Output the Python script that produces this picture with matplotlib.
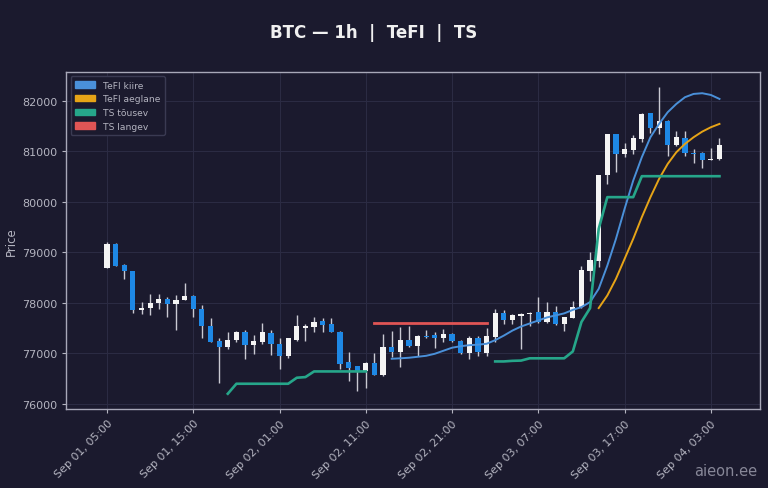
import numpy as np
import pandas as pd
import matplotlib
matplotlib.use("Agg")
import matplotlib.pyplot as plt
import matplotlib.dates as mdates
from matplotlib.patches import Patch

# andmed (1h küünlad)
times = pd.date_range("2025-09-01 05:00", periods=72, freq="h")

opens = [78690, 79170, 78740, 78620, 77850, 77895, 78000, 78080, 77980, 78060,
         78140, 77880, 77550, 77250, 77120, 77270, 77430, 77170, 77220, 77405,
         77180, 76955, 77270, 77510, 77520, 77630, 77580, 77430, 76820, 76740,
         76640, 76810, 76560, 77120, 77025, 77265, 77140, 77350, 77370, 77300,
         77385, 77250, 77000, 77305, 77010, 77320, 77795, 77660, 77740, 77770,
         77815, 77620, 77815, 77570, 77700, 77910, 78620, 78820, 80535, 81345,
         80950, 81030, 81245, 81760, 81460, 81610, 81130, 81260, 80970, 80970,
         80835, 80840]
highs = [79200, 79180, 78760, 78630, 78025, 78180, 78180, 78120, 78145, 78400,
         78150, 77950, 77700, 77300, 77430, 77450, 77470, 77365, 77600, 77470,
         77300, 77310, 77750, 77570, 77720, 77700, 77700, 77440, 77020, 76750,
         76820, 77000, 77385, 77450, 77520, 77550, 77360, 77470, 77430, 77485,
         77400, 77270, 77340, 77340, 77500, 77870, 77860, 77770, 77790, 77810,
         78110, 78010, 77945, 77725, 78045, 78725, 79005, 80540, 81350, 81350,
         81170, 81325, 81760, 81770, 82270, 81620, 81410, 81410, 81040, 80990,
         81060, 81260]
lows = [78680, 78720, 78475, 77800, 77780, 77760, 77880, 77720, 77470, 78050,
        77720, 77300, 77220, 76415, 77090, 77230, 76880, 76990, 77190, 76970,
        76690, 76905, 77250, 77250, 77420, 77430, 77420, 76690, 76460, 76245,
        76310, 76570, 76555, 76930, 76725, 77130, 76945, 77300, 77100, 77220,
        77230, 76990, 76880, 76950, 76945, 77220, 77585, 77585, 77090, 77550,
        77600, 77600, 77560, 77450, 77690, 77900, 78440, 78710, 80355, 80590,
        80880, 80950, 81195, 81365, 81345, 80905, 81100, 80900, 80770, 80665,
        80830, 80830]
closes = [79170, 78730, 78620, 77850, 77895, 78000, 78080, 77980, 78060, 78140,
          77880, 77550, 77230, 77130, 77270, 77430, 77155, 77240, 77420, 77190,
          76955, 77300, 77540, 77545, 77620, 77565, 77430, 76790, 76705, 76640,
          76805, 76575, 77120, 77025, 77265, 77140, 77350, 77320, 77300, 77385,
          77235, 77000, 77305, 77025, 77340, 77795, 77650, 77750, 77780, 77790,
          77620, 77815, 77570, 77715, 77925, 78640, 78840, 80535, 81345, 80950,
          81050, 81260, 81740, 81460, 81610, 81130, 81280, 80970, 80955, 80820,
          80850, 81130]

nan = np.nan
tefi_kiire = [nan] * 33 + [
    76891, 76900, 76911, 76930, 76950, 76990, 77050, 77110, 77140, 77160,
    77170, 77188, 77260, 77350, 77450, 77530, 77590, 77650, 77710, 77750,
    77790, 77860, 77915, 78014, 78277, 78738, 79267, 79861, 80421, 80885,
    81281, 81544, 81776, 81940, 82073, 82138, 82152, 82118, 82039]
tefi_aeglane = [nan] * 57 + [
    77895, 78145, 78475, 78870, 79267, 79697, 80093, 80455, 80752, 80983,
    81148, 81280, 81391, 81478, 81544]
ts_tousev = [nan] * 14 + [
    76198, 76396, 76396, 76396, 76396, 76396, 76396, 76396, 76515, 76528,
    76640, 76640, 76640, 76640, 76640, 76640, 76640] + [nan] * 14 + [
    76838, 76838, 76850, 76855, 76900, 76900, 76900, 76900, 76900, 77036,
    77620, 77895, 79465, 80093, 80093, 80093, 80093, 80508, 80508, 80508,
    80508, 80508, 80508, 80508, 80508, 80508, 80508]
ts_langev = [nan] * 31 + [77597] * 14 + [nan] * 27

tick_idx = list(range(0, 72, 10))

# värvid
BG = "#1b1a2e"
UP = "#f4f4f4"
DOWN = "#1e88e5"
C_KIIRE = "#4a90d9"
C_AEG = "#e6a417"
C_TOUS = "#26a68a"
C_LANG = "#e05555"
TXT = "#b4b4c0"

fig = plt.figure(figsize=(7.68, 4.89), dpi=100, facecolor=BG)
ax = fig.add_axes([0.086, 0.162, 0.9036, 0.6895], facecolor=BG)

x = mdates.date2num(times)
o = np.array(opens, float)
c = np.array(closes, float)
up = c >= o
col = np.where(up, UP, DOWN)
w = 0.6 / 24

ax.vlines(x, lows, highs, color="#c9c9d2", linewidth=1.0, zorder=2)
body = np.maximum(np.abs(c - o), 12)
ax.bar(x, body, width=w, bottom=np.minimum(o, c), color=col, zorder=3,
       linewidth=0)

ax.plot(x, tefi_kiire, color=C_KIIRE, lw=1.4, zorder=4)
ax.plot(x, tefi_aeglane, color=C_AEG, lw=1.4, zorder=4)
ax.plot(x, ts_tousev, color=C_TOUS, lw=1.9, zorder=4)
ax.plot(x, ts_langev, color=C_LANG, lw=2.0, zorder=4)

ax.set_xlim(x[0] - 4.75 / 24, x[-1] + 4.7 / 24)
ax.set_ylim(75900, 82580)
ax.set_xticks(x[tick_idx])
ax.xaxis.set_major_formatter(mdates.DateFormatter("%b %d, %H:%M"))
ax.set_yticks(range(76000, 82001, 1000))
plt.setp(ax.get_xticklabels(), rotation=45, ha="right", rotation_mode="anchor")
ax.tick_params(colors=TXT, labelsize=8, length=3)
ax.grid(True, color="#2c2c44", linewidth=0.7)
ax.set_axisbelow(True)
for s in ax.spines.values():
    s.set_color("#a8a8b8")
    s.set_linewidth(1.0)
ax.set_ylabel("Price", color=TXT, fontsize=8.5)
ax.yaxis.set_label_coords(-0.069, 0.5)

handles = [Patch(color=C_KIIRE, label="TeFI kiire"),
           Patch(color=C_AEG, label="TeFI aeglane"),
           Patch(color=C_TOUS, label="TS tõusev"),
           Patch(color=C_LANG, label="TS langev")]
leg = ax.legend(handles=handles, loc="upper left", fontsize=6.6,
                facecolor=BG, edgecolor="#3a3a52", labelcolor=TXT,
                framealpha=1.0, handlelength=2.2, borderpad=0.5,
                labelspacing=0.5)

fig.text(0.487, 0.932, "BTC — 1h  |  TeFI  |  TS", ha="center", va="center",
         color="#f0f0f0", fontsize=12, fontweight="bold")
fig.text(0.986, 0.035, "aieon.ee", ha="right", va="center",
         color="#9a9aaa", fontsize=10.5, alpha=0.85)

fig.savefig("out.png", dpi=100, facecolor=BG)
